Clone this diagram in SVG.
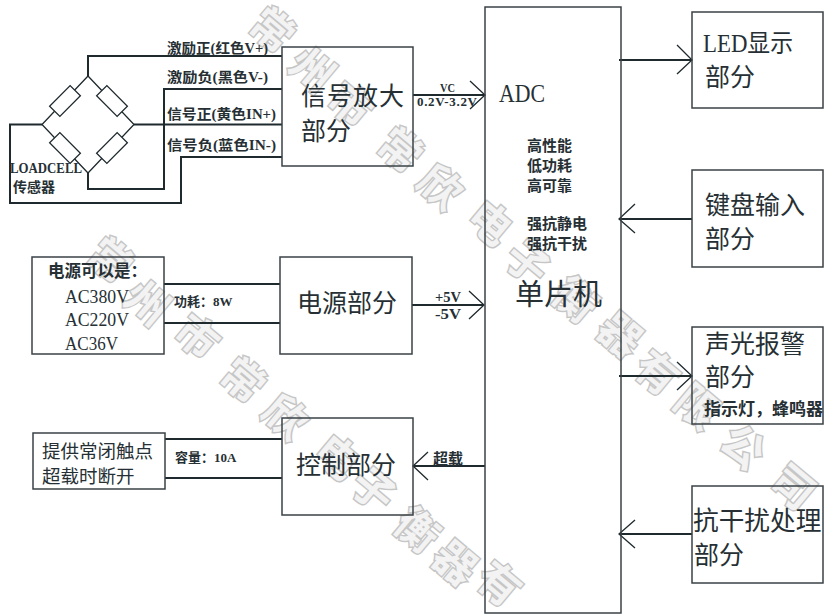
<svg xmlns="http://www.w3.org/2000/svg" width="825" height="615" viewBox="0 0 825 615">
<style>
text{font-family:"Liberation Serif","Noto Sans CJK SC",serif;fill:#263034}
.box{fill:none;stroke:#3a4245;stroke-width:1.5}
.w{fill:none;stroke:#1f2a2e;stroke-width:2}
.t{fill:none;stroke:#1f2a2e;stroke-width:1.3}
.r{fill:#fff;stroke:#1f2a2e;stroke-width:1.3}
.s{font-size:14px;font-weight:700}
.h{font-size:15px;font-weight:700}
.l{font-size:25px}
.a{font-size:19px}
.wm{font-size:42px;font-weight:700;fill:#f3f3f3;stroke:#c6c6c6;stroke-width:3;paint-order:stroke;text-anchor:middle}
</style>
<rect width="825" height="615" fill="#fff"/>
<g id="watermark">
<text class="wm" transform="translate(272,30) rotate(40) translate(0,15)">常</text>
<text class="wm" transform="translate(312,70) rotate(40) translate(0,15)">州</text>
<text class="wm" transform="translate(350,105) rotate(40) translate(0,15)">市</text>
<text class="wm" transform="translate(400,150) rotate(40) translate(0,15)">常</text>
<text class="wm" transform="translate(440,187) rotate(40) translate(0,15)">欣</text>
<text class="wm" transform="translate(490,223) rotate(40) translate(0,15)">电</text>
<text class="wm" transform="translate(527,263) rotate(40) translate(0,15)">子</text>
<text class="wm" transform="translate(575,300) rotate(40) translate(0,15)">衡</text>
<text class="wm" transform="translate(620,335) rotate(40) translate(0,15)">器</text>
<text class="wm" transform="translate(657,373) rotate(40) translate(0,15)">有</text>
<text class="wm" transform="translate(697,407) rotate(40) translate(0,15)">限</text>
<text class="wm" transform="translate(743,447) rotate(40) translate(0,15)">公</text>
<text class="wm" transform="translate(793,487) rotate(40) translate(0,15)">司</text>
<text class="wm" transform="translate(110,260) rotate(40) translate(0,15)">常</text>
<text class="wm" transform="translate(147,303) rotate(40) translate(0,15)">州</text>
<text class="wm" transform="translate(197,337) rotate(40) translate(0,15)">市</text>
<text class="wm" transform="translate(243,380) rotate(40) translate(0,15)">常</text>
<text class="wm" transform="translate(285,417) rotate(40) translate(0,15)">欣</text>
<text class="wm" transform="translate(337,457) rotate(40) translate(0,15)">电</text>
<text class="wm" transform="translate(373,490) rotate(40) translate(0,15)">子</text>
<text class="wm" transform="translate(417,530) rotate(40) translate(0,15)">衡</text>
<text class="wm" transform="translate(455,563) rotate(40) translate(0,15)">器</text>
<text class="wm" transform="translate(499,584) rotate(40) translate(0,15)">有</text>
</g>
<g id="connectors">
<path class="w" d="M88 76V56H282M282 89H164V189H88V173M134 124.500H282M42 124.500H10V203H181V157H282"/>
<path class="t" d="M88 76L42 124.500L88 173L134 124.500Z"/>
<path class="w" d="M413 95H484"/><path class="t" d="M470 81L485 95L470 109"/>
<path class="w" d="M164 284H280M164 323H280M412 305H483"/><path class="t" d="M469 291L484 305L469 319"/>
<path class="w" d="M165 439H282M165 478H282M485 466H414"/><path class="t" d="M428 452L413 466L428 480"/>
<path class="w" d="M619 60H691"/><path class="t" d="M677 45L692 60L677 74"/>
<path class="w" d="M692 219H620"/><path class="t" d="M635 204L619 219L635 233"/>
<path class="w" d="M619 376H691"/><path class="t" d="M677 362L692 376L677 390"/>
<path class="w" d="M692 534H620"/><path class="t" d="M635 520L619 534L635 548"/>
</g>
<g id="bridge">
<rect class="r" x="-14.500" y="-7.250" width="29" height="14.500" transform="translate(65,101) rotate(-45)"/>
<rect class="r" x="-14.500" y="-7.250" width="29" height="14.500" transform="translate(112,101) rotate(45)"/>
<rect class="r" x="-14.500" y="-7.250" width="29" height="14.500" transform="translate(65,148) rotate(45)"/>
<rect class="r" x="-14.500" y="-7.250" width="29" height="14.500" transform="translate(112,148) rotate(-45)"/>
<text x="10" y="173" font-size="14" font-weight="700" textLength="72" lengthAdjust="spacingAndGlyphs">LOADCELL</text>
<text class="s" x="13" y="192">传感器</text>
</g>
<g id="wire-labels">
<text class="s" x="167" y="53" textLength="101" lengthAdjust="spacingAndGlyphs">激励正(红色V+)</text>
<text class="s" x="167" y="82" textLength="101" lengthAdjust="spacingAndGlyphs">激励负(黑色V-)</text>
<text class="s" x="167" y="119" textLength="109" lengthAdjust="spacingAndGlyphs">信号正(黄色IN+)</text>
<text class="s" x="167" y="150" textLength="109" lengthAdjust="spacingAndGlyphs">信号负(蓝色IN-)</text>
<text x="440" y="92" font-size="13" font-weight="700" textLength="15" lengthAdjust="spacingAndGlyphs">VC</text>
<text x="417" y="106" font-size="13" font-weight="700" textLength="60" lengthAdjust="spacing">0.2V-3.2V</text>
<text x="435" y="302" font-size="14" font-weight="700" textLength="26" lengthAdjust="spacingAndGlyphs">+5V</text>
<text x="435" y="319" font-size="14" font-weight="700" textLength="26" lengthAdjust="spacingAndGlyphs">-5V</text>
<text x="174" y="306" font-size="13" font-weight="700">功耗&#xFF1A;8W</text>
<text x="175" y="462" font-size="13" font-weight="700">容量&#xFF1A;10A</text>
<text class="h" x="433" y="464">超载</text>
</g>
<g id="signal-amp">
<rect class="box" x="282" y="47" width="131" height="119"/>
<text class="l" x="301" y="105" textLength="103" lengthAdjust="spacing">信号放大</text>
<text class="l" x="301" y="140">部分</text>
</g>
<g id="power-source">
<rect class="box" x="32" y="257" width="132" height="97"/>
<text x="48" y="277" font-size="16.500" font-weight="700">电源可以是&#xFF1A;</text>
<text class="a" x="65" y="303" textLength="64" lengthAdjust="spacingAndGlyphs">AC380V</text>
<text class="a" x="65" y="326" textLength="64" lengthAdjust="spacingAndGlyphs">AC220V</text>
<text class="a" x="65" y="350" textLength="53" lengthAdjust="spacingAndGlyphs">AC36V</text>
</g>
<g id="power">
<rect class="box" x="280" y="257" width="132" height="97"/>
<text class="l" x="297" y="312">电源部分</text>
</g>
<g id="contact">
<rect class="box" x="33" y="433" width="132" height="56"/>
<text x="42" y="458" font-size="18.500">提供常闭触点</text>
<text x="42" y="483" font-size="18.500">超载时断开</text>
</g>
<g id="control">
<rect class="box" x="282" y="418" width="131" height="97"/>
<text class="l" x="296" y="474">控制部分</text>
</g>
<g id="mcu">
<rect class="box" x="485" y="7" width="136" height="606"/>
<text x="499" y="102" font-size="26" textLength="46" lengthAdjust="spacingAndGlyphs">ADC</text>
<text class="h" x="527" y="151">高性能</text>
<text class="h" x="527" y="171">低功耗</text>
<text class="h" x="527" y="191">高可靠</text>
<text class="h" x="527" y="229">强抗静电</text>
<text class="h" x="527" y="249">强抗干扰</text>
<text x="515" y="305" font-size="29">单片机</text>
</g>
<g id="led">
<rect class="box" x="692" y="12" width="131" height="96"/>
<text class="l" x="703" y="52" textLength="90" lengthAdjust="spacingAndGlyphs">LED显示</text>
<text class="l" x="705" y="86">部分</text>
</g>
<g id="keyboard">
<rect class="box" x="692" y="170" width="131" height="97"/>
<text class="l" x="705" y="214">键盘输入</text>
<text class="l" x="705" y="248">部分</text>
</g>
<g id="alarm">
<rect class="box" x="692" y="327" width="131" height="97"/>
<text class="l" x="705" y="353">声光报警</text>
<text class="l" x="705" y="386">部分</text>
<text x="704" y="415" font-size="17" font-weight="700">指示灯&#xFF0C;蜂鸣器</text>
</g>
<g id="emi">
<rect class="box" x="692" y="486" width="131" height="97"/>
<text x="693" y="530" font-size="25.700">抗干扰处理</text>
<text class="l" x="694" y="564">部分</text>
</g>
</svg>
